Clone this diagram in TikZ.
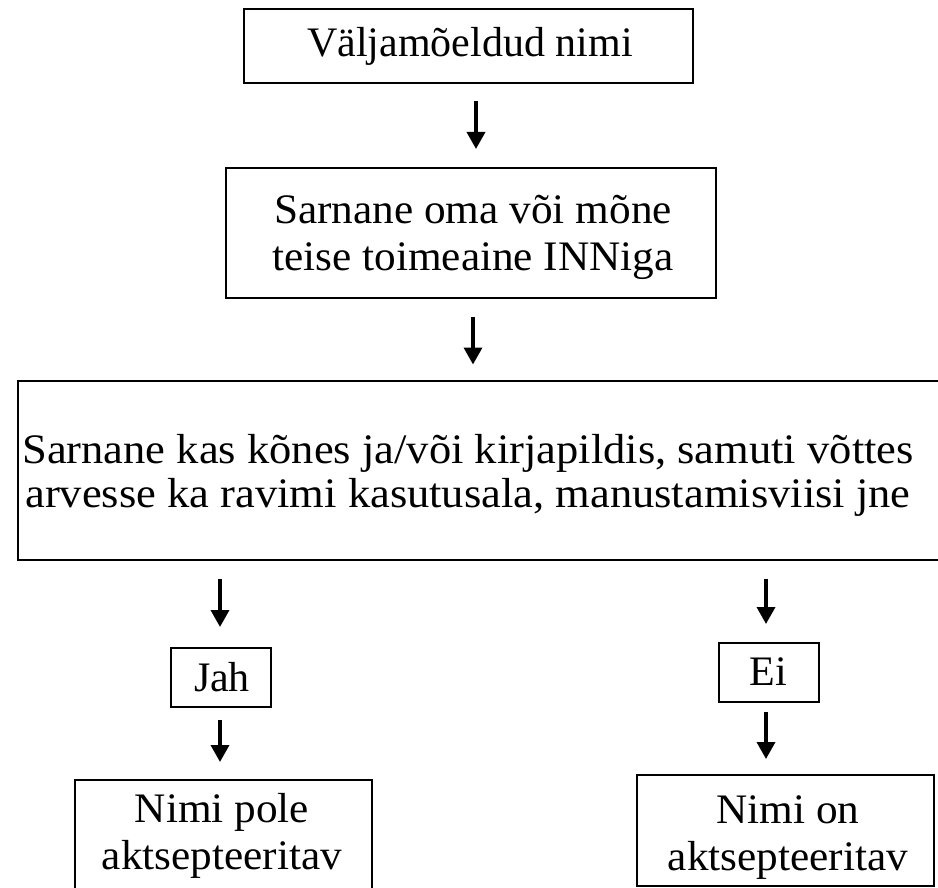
\documentclass[tikz,border=0pt]{standalone}
\usepackage{fontspec}
\setmainfont{Liberation Serif}
\usetikzlibrary{arrows.meta}
\begin{document}
\begin{tikzpicture}[x=1pt,y=-1pt,
  box/.style={draw, line width=2pt, inner sep=0pt},
  txt/.style={inner sep=0pt, align=center, font=\fontsize{42}{47}\selectfont},
  arr/.style={line width=3.5pt, -{Triangle[width=18pt,length=17pt]}}]
\useasboundingbox (0,0) rectangle (938,888);
\clip (0,0) rectangle (938,888);
% boxes
\node[box, minimum width=449pt, minimum height=74pt] (b1) at (468.5,46) {};
\node[txt] (t1) at (470,46) {Väljamõeldud nimi};
\node[box, minimum width=490pt, minimum height=130pt] (b2) at (471,233) {};
\node[txt, xscale=1.03] (t2) at (473,237) {Sarnane oma või mõne\\teise toimeaine INNiga};
\node[box, minimum width=942pt, minimum height=179pt] (b3) at (489,470) {};
\node[txt, xscale=1.06, font=\fontsize{42}{44}\selectfont] (t3) at (468,475) {Sarnane kas kõnes ja/või kirjapildis, samuti võttes\\arvesse ka ravimi kasutusala, manustamisviisi jne};
\node[box, minimum width=100pt, minimum height=59pt] (jah) at (221,677.5) {};
\node[txt] (tj) at (222,677) {Jah};
\node[box, minimum width=100pt, minimum height=59pt] (ei) at (769,672.5) {};
\node[txt] (te) at (768,672) {Ei};
\node[box, minimum width=297pt, minimum height=130pt] (nl) at (223.5,845) {};
\node[txt, xscale=1.03] (tnl) at (222,836) {Nimi pole\\aktsepteeritav};
\node[box, minimum width=297pt, minimum height=111pt] (nr) at (785.5,830.5) {};
\node[txt, xscale=1.03] (tnr) at (788,838) {Nimi on\\aktsepteeritav};
% arrow columns
\coordinate (c1) at (476,0);
\coordinate (c2) at (473,0);
\coordinate (cl) at (220,0);
\coordinate (cr) at (766,0);
\draw[arr, shorten <=17pt, shorten >=18pt] (b1.south -| c1) -- (b2.north -| c1);
\draw[arr, shorten <=18pt, shorten >=15pt] (b2.south -| c2) -- (b3.north -| c2);
\draw[arr, shorten <=18pt, shorten >=20pt] (b3.south -| cl) -- (jah.north -| cl);
\draw[arr, shorten <=18pt, shorten >=18pt] (b3.south -| cr) -- (ei.north -| cr);
\draw[arr, shorten <=12pt, shorten >=17pt] (jah.south -| cl) -- (nl.north -| cl);
\draw[arr, shorten <=9pt, shorten >=15pt] (ei.south -| cr) -- (nr.north -| cr);
\end{tikzpicture}
\end{document}
